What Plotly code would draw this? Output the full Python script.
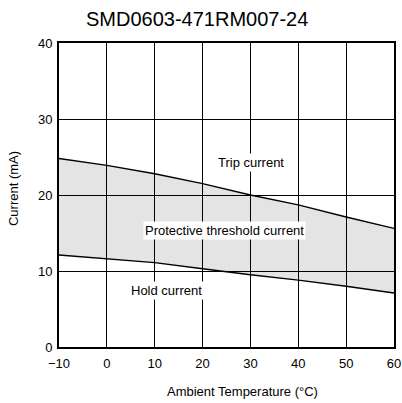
import plotly.graph_objects as go

temps = [-10, 0, 10, 20, 30, 40, 50, 60]
trip_current = [24.8, 23.9, 22.8, 21.5, 20.0, 18.7, 17.1, 15.6]
hold_current = [12.1, 11.6, 11.1, 10.3, 9.5, 8.8, 8.0, 7.1]
x_ticks = [-10, 0, 10, 20, 30, 40, 50, 60]
y_ticks = [0, 10, 20, 30, 40]

FONT = "Liberation Sans, Arial, sans-serif"
FS = 13

fig = go.Figure()
fig.add_trace(go.Scatter(x=temps, y=hold_current, mode="lines",
                         line=dict(color="black", width=1.4), showlegend=False))
fig.add_trace(go.Scatter(x=temps, y=trip_current, mode="lines", fill="tonexty",
                         fillcolor="rgba(0,0,0,0.105)",
                         line=dict(color="black", width=1.4), showlegend=False))

ann_font = dict(family=FONT, size=FS, color="black")
fig.add_annotation(x=30.1, y=24.25, xref="x", yref="y", text="Trip current",
                   showarrow=False, font=ann_font, bgcolor="white", borderpad=1)
fig.add_annotation(x=24.5, y=15.3, xref="x", yref="y", text="Protective threshold current",
                   showarrow=False, font=ann_font, bgcolor="white", borderpad=1)
fig.add_annotation(x=12.4, y=7.47, xref="x", yref="y", text="Hold current",
                   showarrow=False, font=ann_font, bgcolor="white", borderpad=1)

fig.add_annotation(x=0.412, y=1.079, xref="paper", yref="paper",
                   text="SMD0603-471RM007-24", showarrow=False,
                   font=dict(family=FONT, size=20, color="black"),
                   xanchor="center", yanchor="middle")
fig.add_annotation(x=0.549, y=-0.148, xref="paper", yref="paper",
                   text="Ambient Temperature (°C)", showarrow=False,
                   font=dict(family=FONT, size=FS, color="black"),
                   xanchor="center", yanchor="middle")
fig.add_annotation(x=-0.134, y=0.52, xref="paper", yref="paper",
                   text="Current (mA)", showarrow=False, textangle=-90,
                   font=dict(family=FONT, size=FS, color="black"),
                   xanchor="center", yanchor="middle")

fig.update_xaxes(range=[-10, 60], tickvals=x_ticks, ticktext=[str(v).replace("-", "\u2212") for v in x_ticks],
                 showgrid=True, gridcolor="black", gridwidth=1,
                 showline=True, linecolor="black", linewidth=2, mirror=True,
                 ticks="", ticklen=0, zeroline=False, automargin=False,
                 ticklabelstandoff=3,
                 tickfont=dict(family=FONT, size=FS, color="black"))
fig.update_yaxes(range=[0, 40], tickvals=y_ticks,
                 showgrid=True, gridcolor="black", gridwidth=1,
                 showline=True, linecolor="black", linewidth=2, mirror=True,
                 ticks="", ticklen=0, zeroline=False, automargin=False,
                 ticklabelstandoff=2,
                 tickfont=dict(family=FONT, size=FS, color="black"))

fig.update_layout(width=402, height=403, margin=dict(l=59, r=8, t=43, b=56, autoexpand=False),
                  plot_bgcolor="white", paper_bgcolor="white",
                  font=dict(family=FONT, size=FS, color="black"))

fig.write_html("out.html", config={"displayModeBar": False, "responsive": False},
               post_script="document.body.style.margin='0px';document.body.style.overflow='hidden';")
